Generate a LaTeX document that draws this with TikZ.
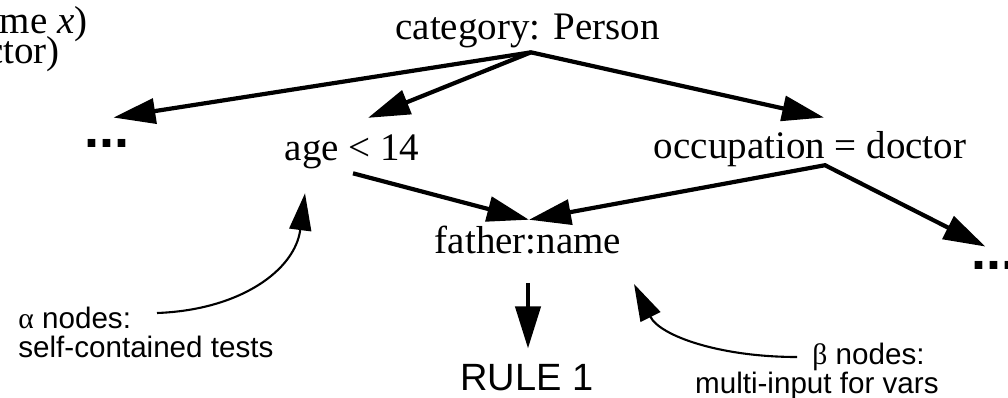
\documentclass[tikz,border=0pt]{standalone}
\usepackage{fontspec}
\setmainfont{Liberation Serif}
\setsansfont{Liberation Sans}
\usetikzlibrary{arrows.meta}

\begin{document}
\begin{tikzpicture}[>={Triangle[length=21pt,width=12.5pt]},x=0.5pt,y=-0.5pt,
			test/.style={inner sep=0pt,anchor=base,font=\fontsize{19.5}{23}\selectfont},
			more/.style={inner sep=0pt,anchor=base west,font=\sffamily\bfseries\fontsize{27}{30}\selectfont},
			remark/.style={inner sep=0pt,font=\sffamily\fontsize{14.8}{14.5}\selectfont},
			link/.style={line width=2.1pt},
			pointer/.style={line width=1.05pt,-{Triangle[length=18.5pt,width=11pt]}}]
			      \useasboundingbox (0,0) rectangle (1008,397);
			      \node[test,anchor=base east] (codeA) at (88,33) {(name \textit{x})};
			      \node[test,anchor=base east] (codeB) at (60,63) {(occupation doctor)};
			      \node[test] (cat) at (527.5,39) {category: Person};
			      \node[test] (age) at (352,160) {age < 14};
			      \node[test] (occ) at (810,158) {occupation = doctor};
			      \node[test] (father) at (528,253) {father:name};
			      \node[inner sep=0pt,anchor=base,font=\sffamily\fontsize{19}{22}\selectfont] (rule) at (527,390) {RULE 1};
			      \node[more] (moreL) at (84,147) {...};
			      \node[more] (moreR) at (971,269) {...};
			      \node[remark,anchor=north west,align=left] (alpha) at (18,306.5) {{\rmfamily α} nodes:\\self-contained tests};
			      \node[remark,anchor=north east,align=right] (beta) at (939,342.5) {{\rmfamily β} nodes:\kern7pt\\multi-input for vars};
			      \coordinate (fork) at ([shift={(3.5,4.5)}]cat.south);
			      \coordinate (split) at ([shift={(15,-1.5)}]occ.south);
			      \draw[link,<->] ([shift={(6.5,-21)}]moreL.north)--(fork)--([shift={(14,-13)}]occ.north);
			      \draw[link,->] (fork)--([shift={(16,-16)}]age.north);
			      \draw[link,->] ([shift={(1,4.5)}]age.south)--([shift={(1,-5.4)}]father.north);
			      \draw[link,<->] ([shift={(1,-5.4)}]father.north)--(split)--([shift={(-8.5,-14)}]moreR.north);
			      \draw[link,->] ([shift={(0,29)}]father.south)--([shift={(1,-15)}]rule.north);
			      \draw[pointer] ([shift={(139,6.5)}]alpha.north west) .. controls +(83,-3) and +(-10,77) .. ([shift={(-47,24.5)}]age.south);
			      \draw[pointer] ([shift={(-142,14.5)}]beta.north east) .. controls +(-77,0) and +(26,52) .. ([shift={(106,30)}]father.south);
		      \end{tikzpicture}
\end{document}
